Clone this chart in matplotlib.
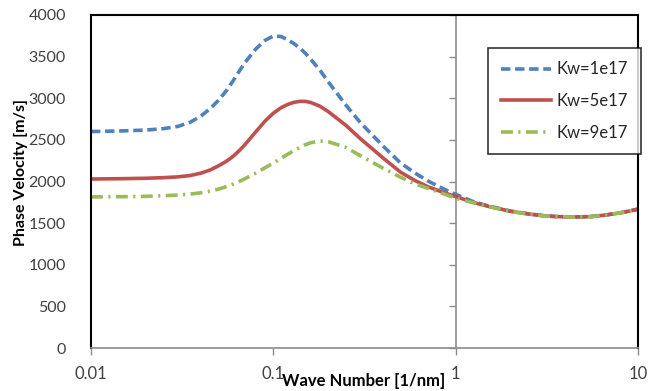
import matplotlib
matplotlib.use("Agg")
import matplotlib.pyplot as plt
from matplotlib.lines import TICKLEFT

plt.rcParams['font.family'] = ['Lato', 'DejaVu Sans']

# wave number grid [1/nm]
wave_number = [0.01, 0.015, 0.02, 0.025, 0.03, 0.035, 0.04, 0.045, 0.05, 0.055,
               0.06, 0.065, 0.07, 0.08, 0.09, 0.1, 0.11, 0.12, 0.13, 0.14,
               0.15, 0.16, 0.18, 0.2, 0.25, 0.3, 0.4, 0.5, 0.6, 0.7,
               0.85, 1.0, 1.25, 1.5, 2.0, 2.5, 3.0, 3.5, 4.4, 5.5,
               6.7, 8.3, 10.0]

# phase velocity [m/s]
vel_1e17 = [2600, 2608, 2618, 2635, 2662, 2712, 2785, 2875, 2975, 3085,
            3205, 3325, 3430, 3590, 3695, 3748, 3742, 3702, 3655, 3600,
            3540, 3470, 3338, 3198, 2918, 2708, 2425, 2220, 2100, 2010,
            1915, 1845, 1758, 1708, 1645, 1612, 1591, 1580, 1574, 1578,
            1598, 1630, 1668]
vel_5e17 = [2030, 2034, 2039, 2046, 2056, 2072, 2100, 2138, 2188, 2240,
            2300, 2370, 2445, 2595, 2725, 2820, 2885, 2926, 2952, 2963,
            2962, 2950, 2905, 2840, 2675, 2515, 2282, 2110, 2010, 1940,
            1870, 1820, 1748, 1703, 1642, 1610, 1590, 1579, 1574, 1578,
            1598, 1630, 1668]
vel_9e17 = [1815, 1818, 1822, 1829, 1838, 1849, 1864, 1884, 1908, 1937,
            1968, 2000, 2034, 2100, 2165, 2222, 2278, 2328, 2372, 2410,
            2442, 2465, 2487, 2478, 2410, 2310, 2160, 2050, 1970, 1920,
            1855, 1800, 1745, 1701, 1641, 1609, 1589, 1578, 1573, 1577,
            1597, 1629, 1667]

labels = ['Kw=1e17', 'Kw=5e17', 'Kw=9e17']
y_ticks = [0, 500, 1000, 1500, 2000, 2500, 3000, 3500, 4000]
x_ticks = [0.01, 0.1, 1, 10]
x_ticklabels = ['0.01', '0.1', '1', '10']

fig = plt.figure(figsize=(6.62, 3.91), dpi=100)
ax = fig.add_axes([91/662, 1 - 348/391, 547/662, 333/391])

ax.plot(wave_number, vel_1e17, color='#4F81BD', lw=2.6,
        dashes=(2.6, 1.3), label=labels[0])
ax.plot(wave_number, vel_5e17, color='#C0504D', lw=2.6, label=labels[1])
ax.plot(wave_number, vel_9e17, color='#9BBB59', lw=2.6,
        dashes=(3.3, 1.5, 0.6, 1.5), label=labels[2])

ax.set_xscale('log')
ax.set_xlim(0.01, 10)
ax.set_ylim(0, 4000)

ax.set_xticks(x_ticks)
ax.set_xticklabels(x_ticklabels)
ax.xaxis.set_minor_locator(matplotlib.ticker.NullLocator())
ax.set_yticks(y_ticks)
ax.tick_params(axis='x', direction='out', length=5, width=1, color='#8C8C8C',
               labelsize=12, labelcolor='#404040', pad=8)
ax.tick_params(axis='y', length=0, labelsize=11.5, labelcolor='#404040', pad=18)

for side in ('left', 'top', 'right'):
    ax.spines[side].set_color('black')
    ax.spines[side].set_linewidth(1.5)
ax.spines['bottom'].set_color('#8C8C8C')
ax.spines['bottom'].set_linewidth(1.2)

# vertical axis crossing at k = 1 with its own tick marks
ax.axvline(1, color='#8C8C8C', lw=1.2, zorder=1)
ax.plot([1] * len(y_ticks), y_ticks, ls='', marker=TICKLEFT, ms=5,
        mew=1, color='#8C8C8C', clip_on=False, zorder=1)

fig.text(21/662, 1 - 172/391, 'Phase Velocity [m/s]', rotation=90,
         ha='center', va='center', fontsize=11.5, fontweight='bold',
         color='black')
fig.text(364/662, 1 - 381/391, 'Wave Number [1/nm]', ha='center',
         va='center', fontsize=12, fontweight='bold', color='black')

leg = ax.legend(loc='upper left', bbox_to_anchor=(488/662, 1 - 48/391),
                bbox_transform=fig.transFigure, fontsize=12, frameon=True,
                fancybox=False, edgecolor='black', handlelength=3.0,
                handletextpad=0.3, labelspacing=0.95, borderpad=0.8,
                borderaxespad=0)
leg.get_frame().set_linewidth(1.2)
for t in leg.get_texts():
    t.set_color('#262626')

fig.savefig('out.png', dpi=100)
